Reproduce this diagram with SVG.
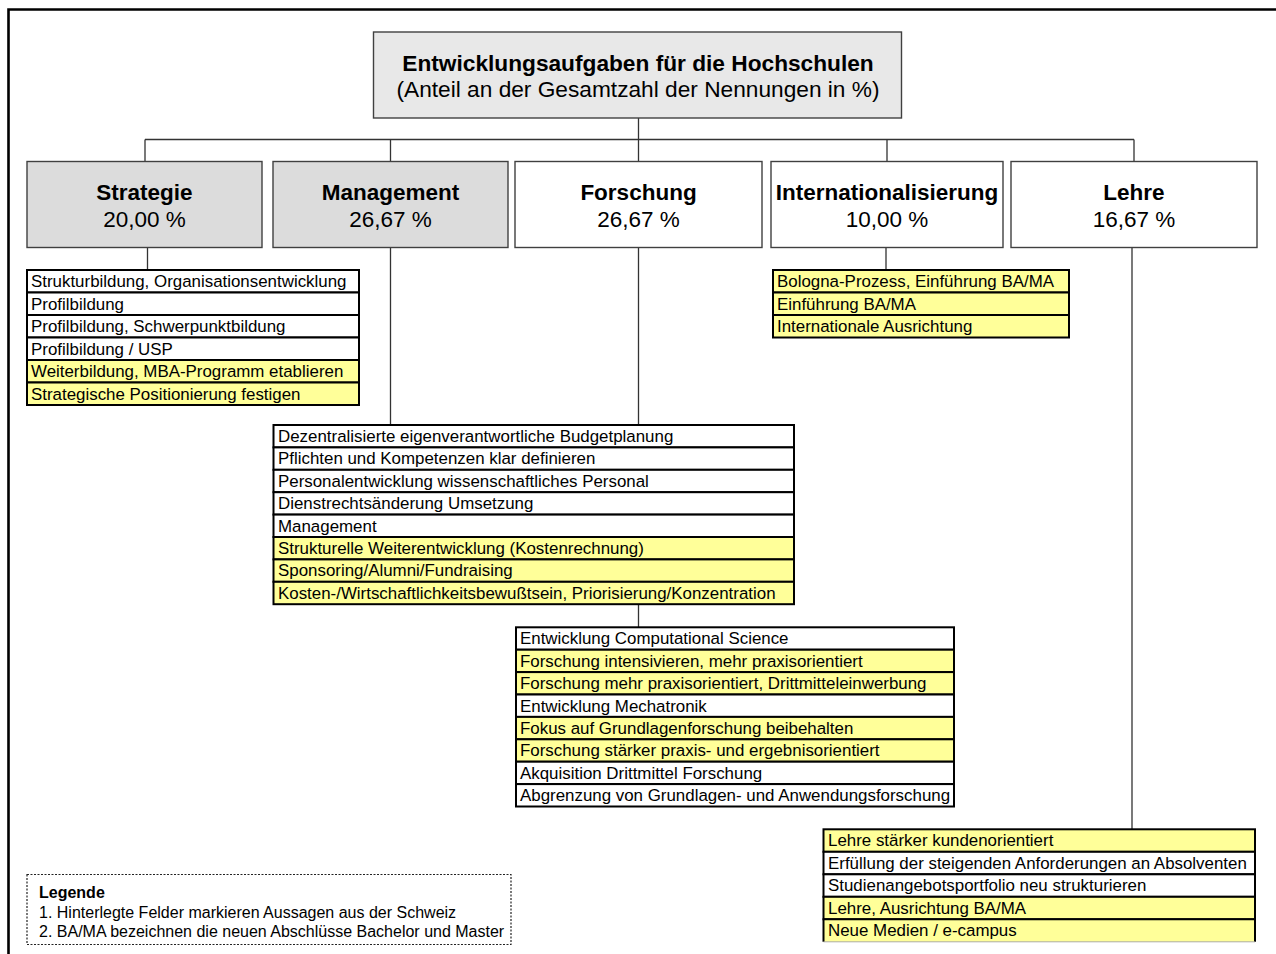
<svg xmlns="http://www.w3.org/2000/svg" width="1276" height="954" viewBox="0 0 1276 954">
<style>
text{font-family:"Liberation Sans",Arial,sans-serif;fill:#000}
.box{stroke:#404040;stroke-width:1.4}
.g{fill:#dcdcdc}.tg{fill:#e8e8e8}.w{fill:#fff}.y{fill:#ffff99}
.row{stroke:#000;stroke-width:2}
.it{font-size:16.9px}
.hb{font-size:22.5px;font-weight:bold;text-anchor:middle}
.hp{font-size:22.5px;text-anchor:middle}
.tb{font-size:22.7px;font-weight:bold;text-anchor:middle}
.tp{font-size:22.7px;text-anchor:middle}
.con{fill:none;stroke:#333;stroke-width:1.3}
.lg{font-size:16px}
</style>
<rect width="1276" height="954" fill="#fff"/>
<path d="M8.5 954V9.5H1276" fill="none" stroke="#000" stroke-width="2.6"/>

<g id="connectors">
<path class="con" d="M638.5 118V139.5M145 139.5H1134M145 139.5V161.5M390.5 139.5V161.5M638.5 139.5V161.5M887 139.5V161.5M1134 139.5V161.5"/>
<path class="con" d="M147.5 247.5V270M390.5 247.5V425M638.5 247.5V425M638.5 604V627M886 247.5V270M1132 247.5V829"/>
</g>

<g id="title">
<rect class="box tg" x="373.5" y="32" width="528" height="86"/>
<text class="tb" x="638" y="71">Entwicklungsaufgaben für die Hochschulen</text>
<text class="tp" x="638" y="97">(Anteil an der Gesamtzahl der Nennungen in %)</text>
</g>

<g id="h-strategie">
<rect class="box g" x="27" y="161.5" width="235" height="86"/>
<text class="hb" x="144.5" y="200">Strategie</text>
<text class="hp" x="144.5" y="227">20,00 %</text>
</g>
<g id="h-management">
<rect class="box g" x="273" y="161.5" width="235" height="86"/>
<text class="hb" x="390.5" y="200">Management</text>
<text class="hp" x="390.5" y="227">26,67 %</text>
</g>
<g id="h-forschung">
<rect class="box w" x="515" y="161.5" width="247" height="86"/>
<text class="hb" x="638.5" y="200">Forschung</text>
<text class="hp" x="638.5" y="227">26,67 %</text>
</g>
<g id="h-international">
<rect class="box w" x="771" y="161.5" width="232" height="86"/>
<text class="hb" x="887" y="200">Internationalisierung</text>
<text class="hp" x="887" y="227">10,00 %</text>
</g>
<g id="h-lehre">
<rect class="box w" x="1011" y="161.5" width="246" height="86"/>
<text class="hb" x="1134" y="200">Lehre</text>
<text class="hp" x="1134" y="227">16,67 %</text>
</g>

<g id="list-strategie">
<rect class="row w" x="27" y="270" width="332" height="22.5"/>
<rect class="row w" x="27" y="292.5" width="332" height="22.5"/>
<rect class="row w" x="27" y="315" width="332" height="22.5"/>
<rect class="row w" x="27" y="337.5" width="332" height="22.5"/>
<rect class="row y" x="27" y="360" width="332" height="22.5"/>
<rect class="row y" x="27" y="382.5" width="332" height="22.5"/>
<text class="it" x="31" y="287">Strukturbildung, Organisationsentwicklung</text>
<text class="it" x="31" y="309.5">Profilbildung</text>
<text class="it" x="31" y="332">Profilbildung, Schwerpunktbildung</text>
<text class="it" x="31" y="354.5">Profilbildung / USP</text>
<text class="it" x="31" y="377">Weiterbildung, MBA-Programm etablieren</text>
<text class="it" x="31" y="399.5">Strategische Positionierung festigen</text>
</g>

<g id="list-international">
<rect class="row y" x="773" y="270" width="296" height="22.5"/>
<rect class="row y" x="773" y="292.5" width="296" height="22.5"/>
<rect class="row y" x="773" y="315" width="296" height="22.5"/>
<text class="it" x="777" y="287">Bologna-Prozess, Einführung BA/MA</text>
<text class="it" x="777" y="309.5">Einführung BA/MA</text>
<text class="it" x="777" y="332">Internationale Ausrichtung</text>
</g>

<g id="list-management">
<rect class="row w" x="273.5" y="425" width="520.5" height="22.4"/>
<rect class="row w" x="273.5" y="447.4" width="520.5" height="22.4"/>
<rect class="row w" x="273.5" y="469.8" width="520.5" height="22.4"/>
<rect class="row w" x="273.5" y="492.2" width="520.5" height="22.4"/>
<rect class="row w" x="273.5" y="514.6" width="520.5" height="22.4"/>
<rect class="row y" x="273.5" y="537" width="520.5" height="22.4"/>
<rect class="row y" x="273.5" y="559.4" width="520.5" height="22.4"/>
<rect class="row y" x="273.5" y="581.8" width="520.5" height="22.4"/>
<text class="it" x="278" y="442">Dezentralisierte eigenverantwortliche Budgetplanung</text>
<text class="it" x="278" y="464.4">Pflichten und Kompetenzen klar definieren</text>
<text class="it" x="278" y="486.8">Personalentwicklung wissenschaftliches Personal</text>
<text class="it" x="278" y="509.2">Dienstrechtsänderung Umsetzung</text>
<text class="it" x="278" y="531.6">Management</text>
<text class="it" x="278" y="554">Strukturelle Weiterentwicklung (Kostenrechnung)</text>
<text class="it" x="278" y="576.4">Sponsoring/Alumni/Fundraising</text>
<text class="it" x="278" y="598.8">Kosten-/Wirtschaftlichkeitsbewußtsein, Priorisierung/Konzentration</text>
</g>

<g id="list-forschung">
<rect class="row w" x="516" y="627.3" width="438" height="22.4"/>
<rect class="row y" x="516" y="649.7" width="438" height="22.4"/>
<rect class="row y" x="516" y="672.1" width="438" height="22.4"/>
<rect class="row w" x="516" y="694.5" width="438" height="22.4"/>
<rect class="row y" x="516" y="716.9" width="438" height="22.4"/>
<rect class="row y" x="516" y="739.3" width="438" height="22.4"/>
<rect class="row w" x="516" y="761.7" width="438" height="22.4"/>
<rect class="row w" x="516" y="784.1" width="438" height="22.4"/>
<text class="it" x="520" y="644.3">Entwicklung Computational Science</text>
<text class="it" x="520" y="666.7">Forschung intensivieren, mehr praxisorientiert</text>
<text class="it" x="520" y="689.1">Forschung mehr praxisorientiert, Drittmitteleinwerbung</text>
<text class="it" x="520" y="711.5">Entwicklung Mechatronik</text>
<text class="it" x="520" y="733.9">Fokus auf Grundlagenforschung beibehalten</text>
<text class="it" x="520" y="756.3">Forschung stärker praxis- und ergebnisorientiert</text>
<text class="it" x="520" y="778.7">Akquisition Drittmittel Forschung</text>
<text class="it" x="520" y="801.1">Abgrenzung von Grundlagen- und Anwendungsforschung</text>
</g>

<g id="list-lehre">
<rect class="row y" x="823.5" y="829.3" width="431.5" height="22.5"/>
<rect class="row w" x="823.5" y="851.8" width="431.5" height="22.5"/>
<rect class="row w" x="823.5" y="874.3" width="431.5" height="22.5"/>
<rect class="row y" x="823.5" y="896.8" width="431.5" height="22.5"/>
<rect class="y" x="823.5" y="919.3" width="431.5" height="22.5"/>
<path d="M823.5 941.8V919.3H1255V941.8" fill="none" stroke="#000" stroke-width="2"/>
<path d="M823.5 941.8H1255" fill="none" stroke="#999" stroke-width="0.8"/>
<text class="it" x="828" y="846.3">Lehre stärker kundenorientiert</text>
<text class="it" x="828" y="868.8">Erfüllung der steigenden Anforderungen an Absolventen</text>
<text class="it" x="828" y="891.3">Studienangebotsportfolio neu strukturieren</text>
<text class="it" x="828" y="913.8">Lehre, Ausrichtung BA/MA</text>
<text class="it" x="828" y="936.3">Neue Medien / e-campus</text>
</g>

<g id="legend">
<rect x="27" y="874.5" width="484" height="70" fill="#fff" stroke="#222" stroke-width="1.2" stroke-dasharray="2,1.5"/>
<text class="lg" x="39" y="898" font-weight="bold">Legende</text>
<text class="lg" x="39" y="917.5">1. Hinterlegte Felder markieren Aussagen aus der Schweiz</text>
<text class="lg" x="39" y="937">2. BA/MA bezeichnen die neuen Abschlüsse Bachelor und Master</text>
</g>
</svg>
